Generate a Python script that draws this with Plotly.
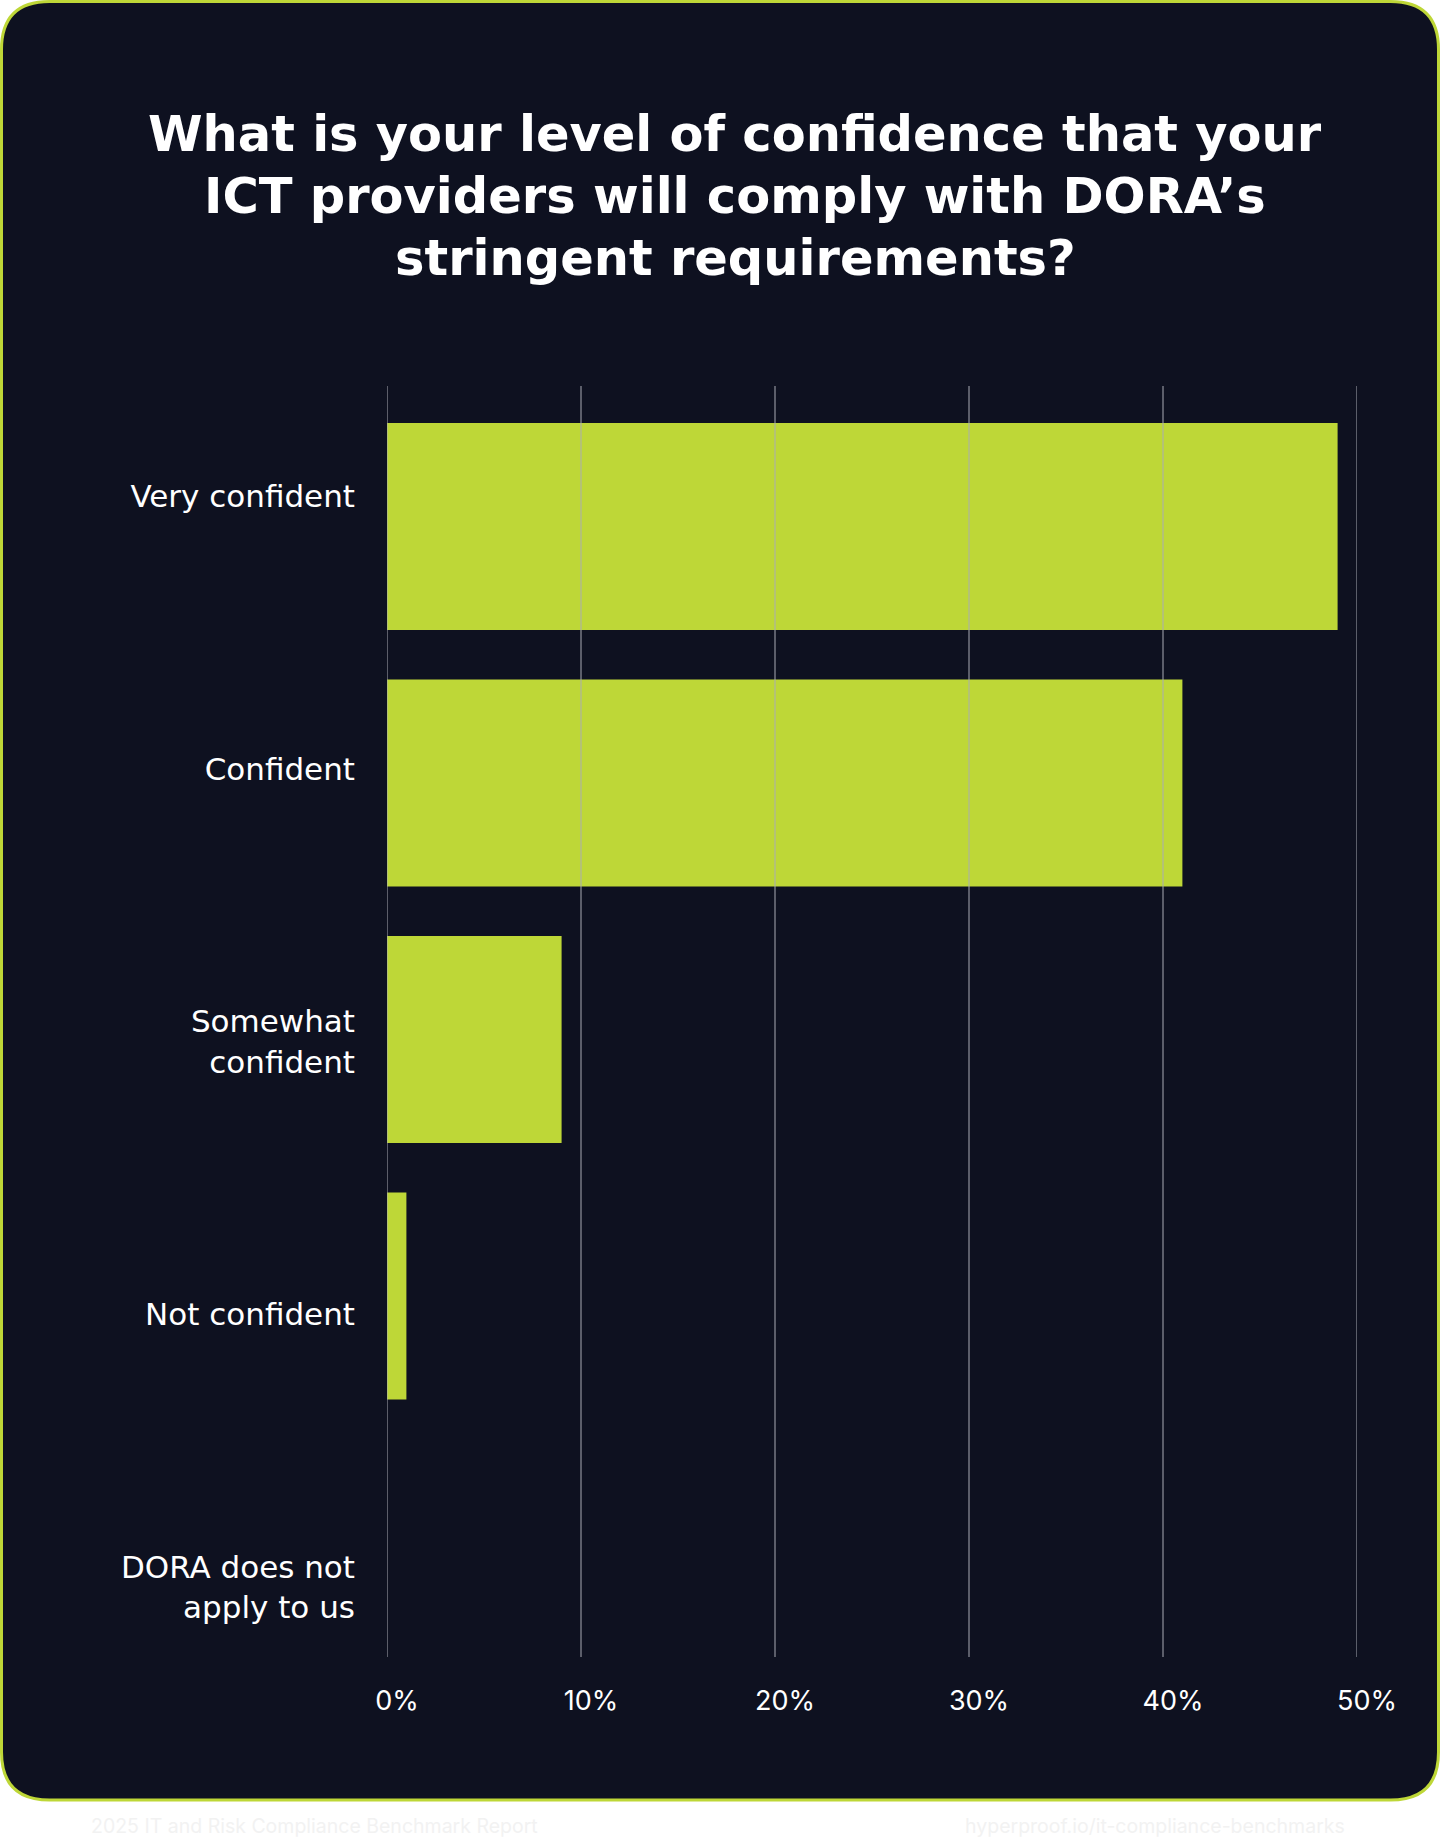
import plotly.graph_objects as go

# ---------------- data ----------------
CATEGORIES = [
    "Very confident",
    "Confident",
    "Somewhat<br>confident",
    "Not confident",
    "DORA does not<br>apply to us",
]
VALUES = [49.0, 41.0, 9.0, 1.0, 0.0]
TICK_VALUES = [0, 10, 20, 30, 40, 50]
TICK_LABELS = ["0%", "10%", "20%", "30%", "40%", "50%"]
TITLE_LINES = [
    "What is your level of confidence that your",
    "ICT providers will comply with DORA’s",
    "stringent requirements?",
]
FOOTER_LEFT = "2025 IT and Risk Compliance Benchmark Report"
FOOTER_RIGHT = "hyperproof.io/it-compliance-benchmarks"

# ---------------- style ----------------
W, H = 1440, 1838
ML, MR, MT, MB = 387, 83, 386, 181
PW, PH = W - ML - MR, H - MT - MB
BG_DARK = "#0e1120"
LIME = "#bed737"
GRID = "#a9acb4"
FONT = "Inter"
LABEL_FONT = "DejaVu Sans"
TITLE_Y = [134, 196, 258]


def px(x):
    return (x - ML) / PW


def py(y):
    return 1 - (y - MT) / PH


# rounded frame path (paper coords)
x0, x1, y0, y1, r = 1.5, 1438.5, 1.5, 1800.0, 48
frame = (
    f"M {px(x0 + r)} {py(y0)} L {px(x1 - r)} {py(y0)} "
    f"Q {px(x1)} {py(y0)} {px(x1)} {py(y0 + r)} "
    f"L {px(x1)} {py(y1 - r)} "
    f"Q {px(x1)} {py(y1)} {px(x1 - r)} {py(y1)} "
    f"L {px(x0 + r)} {py(y1)} "
    f"Q {px(x0)} {py(y1)} {px(x0)} {py(y1 - r)} "
    f"L {px(x0)} {py(y0 + r)} "
    f"Q {px(x0)} {py(y0)} {px(x0 + r)} {py(y0)} Z"
)

fig = go.Figure()
fig.add_trace(go.Bar(
    x=VALUES, y=CATEGORIES, orientation="h",
    marker=dict(color=LIME, line=dict(width=0)),
    width=0.807, hoverinfo="skip", showlegend=False,
))
# invisible trace carrying the category labels on an overlaid axis
fig.add_trace(go.Scatter(
    x=VALUES, y=CATEGORIES, yaxis="y2", mode="markers",
    marker=dict(opacity=0), hoverinfo="skip", showlegend=False,
))

shapes = [dict(type="path", path=frame, xref="paper", yref="paper",
               fillcolor=BG_DARK, line=dict(color=LIME, width=3), layer="below")]
for tv in TICK_VALUES:
    shapes.append(dict(type="line", xref="x", yref="paper", x0=tv, x1=tv, y0=0, y1=1,
                       line=dict(color=GRID, width=1), layer="above"))

annotations = []
for line, yy in zip(TITLE_LINES, TITLE_Y):
    annotations.append(dict(
        text=line, xref="paper", yref="paper", x=px(735), y=py(yy),
        xanchor="center", yanchor="middle", showarrow=False,
        font=dict(size=49.5, color="white", family=LABEL_FONT, weight=700)))
annotations += [
    dict(text=FOOTER_LEFT, xref="paper", yref="paper", x=px(89), y=py(1826),
         xanchor="left", yanchor="middle", showarrow=False,
         font=dict(size=19.5, color="#f2f2f2", family=FONT)),
    dict(text=FOOTER_RIGHT, xref="paper", yref="paper", x=px(1347), y=py(1826),
         xanchor="right", yanchor="middle", showarrow=False,
         font=dict(size=19.5, color="#f2f2f2", family=FONT)),
]

fig.update_layout(
    width=W, height=H,
    margin=dict(l=ML, r=MR, t=MT, b=MB, pad=0),
    paper_bgcolor="white",
    plot_bgcolor="rgba(0,0,0,0)",
    font=dict(family=FONT, color="white"),
    shapes=shapes,
    xaxis=dict(
        range=[0, 50], tickmode="array", tickvals=TICK_VALUES, ticktext=TICK_LABELS,
        showgrid=False, zeroline=False, showline=False, ticks="",
        tickfont=dict(size=27, color="white", family=FONT),
        ticklabelstandoff=25, ticklabelshift=10,
    ),
    yaxis=dict(
        type="category", categoryorder="array", categoryarray=CATEGORIES,
        range=[4.407, -0.548], showticklabels=False, showgrid=False,
        zeroline=False, showline=False,
    ),
    yaxis2=dict(
        type="category", categoryorder="array", categoryarray=CATEGORIES,
        overlaying="y", side="left", range=[4.256, -0.403],
        showgrid=False, zeroline=False, showline=False, ticks="",
        tickfont=dict(size=31, color="white", family=LABEL_FONT),
        ticklabelstandoff=31,
    ),
    annotations=annotations,
)

fig.write_html("out.html", config={"displayModeBar": False},
               post_script="document.body.style.margin='0';")
